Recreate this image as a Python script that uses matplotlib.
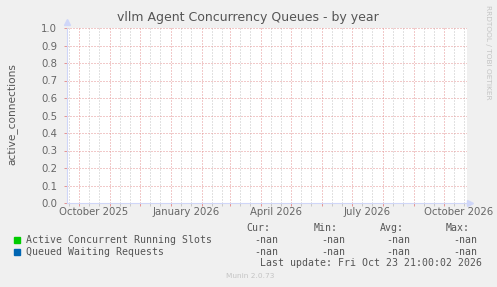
import numpy as np
import pandas as pd
import matplotlib
matplotlib.use("Agg")
import matplotlib.pyplot as plt
import matplotlib.dates as mdates
import matplotlib.transforms as mtransforms
from datetime import datetime, timedelta

# Chart data (every value is -nan in the source graph)
series_names = ["Active Concurrent Running Slots", "Queued Waiting Requests"]
series_colors = ["#00CC00", "#0066B3"]
series_values = [[np.nan, np.nan], [np.nan, np.nan]]
stat_headers = ["Cur:", "Min:", "Avg:", "Max:"]
stat_values = [["-nan", "-nan", "-nan", "-nan"], ["-nan", "-nan", "-nan", "-nan"]]
x_labels = ["October 2025", "January 2026", "April 2026", "July 2026", "October 2026"]
label_months = ["2025-10-16", "2026-01-16", "2026-04-16", "2026-07-16", "2026-10-16"]
y_ticks = [0.0, 0.1, 0.2, 0.3, 0.4, 0.5, 0.6, 0.7, 0.8, 0.9, 1.0]
end_time = datetime(2026, 10, 23, 21, 0, 2)
start_time = end_time - timedelta(days=400)

W, H = 497, 287
fig = plt.figure(figsize=(W / 100, H / 100), dpi=100, facecolor="#F0F0F0")
ax = fig.add_axes([67 / W, (H - 203) / H, 400 / W, 175 / H], facecolor="white")

# series (all nan -> nothing visible)
times = [start_time, end_time]
for vals, col in zip(series_values, series_colors):
    ax.plot(times, vals, color=col, lw=1)

ax.set_xlim(start_time, end_time)
ax.set_ylim(0, 1)

major_x = pd.date_range("2025-10-01", "2026-10-01", freq="MS")
minor_x = [d for m in pd.date_range("2025-09-01", "2026-10-01", freq="MS")
           for d in (m + pd.Timedelta(days=10), m + pd.Timedelta(days=20))]
minor_x = [d for d in minor_x if start_time < d < end_time]

grid_red = "#E49494"
grid_gray = "#C4C4C4"
dot = (0, (1, 2))
for d in minor_x:
    ax.axvline(d, color=grid_gray, lw=0.72, ls=dot, zorder=0.5)
for d in major_x:
    ax.axvline(d, color=grid_red, lw=0.72, ls=dot, zorder=0.6)
for y in y_ticks[1:]:
    ax.axhline(y, color=grid_red, lw=0.72, ls=dot, zorder=0.6)

ax.set_xticks(major_x)
ax.set_xticks(minor_x, minor=True)
ax.set_xticklabels([])
ax.tick_params(axis="x", which="major", length=2.5, width=0.7, color=grid_red, direction="out")
ax.tick_params(axis="x", which="minor", length=2, width=0.7, color="#C8C8C8", direction="out")
ax.set_yticks(y_ticks)
ax.set_yticklabels([f"{v:.1f}" for v in y_ticks], fontsize=7.3, color="#666666")
ax.tick_params(axis="y", length=2, width=0.7, color=grid_red, pad=5)

trans = mtransforms.blended_transform_factory(ax.transData, ax.transAxes)
for lab, d in zip(x_labels, label_months):
    ax.text(pd.Timestamp(d), -0.025, lab, transform=trans, ha="center", va="top",
            fontsize=7.3, color="#666666")

axis_col = "#CFD6F8"
for s in ["top", "right"]:
    ax.spines[s].set_visible(False)
for s in ["left", "bottom"]:
    ax.spines[s].set_color(axis_col)
    ax.spines[s].set_linewidth(0.8)
ax.spines["bottom"].set_bounds(mdates.date2num(start_time),
                               mdates.date2num(end_time + timedelta(days=2)))
ax.plot([0], [1.035], marker="^", ms=5, color=axis_col, transform=ax.transAxes, clip_on=False)
ax.plot([1.008], [0], marker=">", ms=5, color=axis_col, transform=ax.transAxes, clip_on=False)

fig.text(248 / W, 1 - 18 / H, "vllm Agent Concurrency Queues - by year",
         ha="center", va="center", fontsize=9.0, color="#555555")
fig.text(12 / W, 1 - 114 / H, "active_connections", rotation=90,
         ha="center", va="center", fontsize=7.6, color="#555555")
fig.text(488 / W, 1 - 5 / H, "RRDTOOL / TOBI OETIKER", rotation=-90,
         ha="center", va="top", fontsize=5.3, color="#C4C4C4")

mono = "DejaVu Sans Mono"
legend_y = [240, 252]
for name, col, vals, yy in zip(series_names, series_colors, stat_values, legend_y):
    fig.patches.append(plt.Rectangle((14 / W, 1 - (yy + 3) / H), 6 / W, 6 / H,
                                     transform=fig.transFigure, color=col))
    fig.text(26 / W, 1 - yy / H, name, ha="left", va="center",
             fontsize=7.1, family=mono, color="#555555")

col_right = [270, 338, 404, 470]
val_right = [278, 345, 410, 477]
for h, xr in zip(stat_headers, col_right):
    fig.text(xr / W, 1 - 228 / H, h, ha="right", va="center",
             fontsize=7.1, family=mono, color="#555555")
for vals, yy in zip(stat_values, legend_y):
    for v, xr in zip(vals, val_right):
        fig.text(xr / W, 1 - yy / H, v, ha="right", va="center",
                 fontsize=7.1, family=mono, color="#555555")
fig.text(482 / W, 1 - 263 / H, "Last update: Fri Oct 23 21:00:02 2026",
         ha="right", va="center", fontsize=7.1, family=mono, color="#555555")
fig.text(250 / W, 1 - 276 / H, "Munin 2.0.73", ha="center", va="center",
         fontsize=5.3, color="#C4C4C4")

fig.savefig("out.png", dpi=100, facecolor=fig.get_facecolor())
